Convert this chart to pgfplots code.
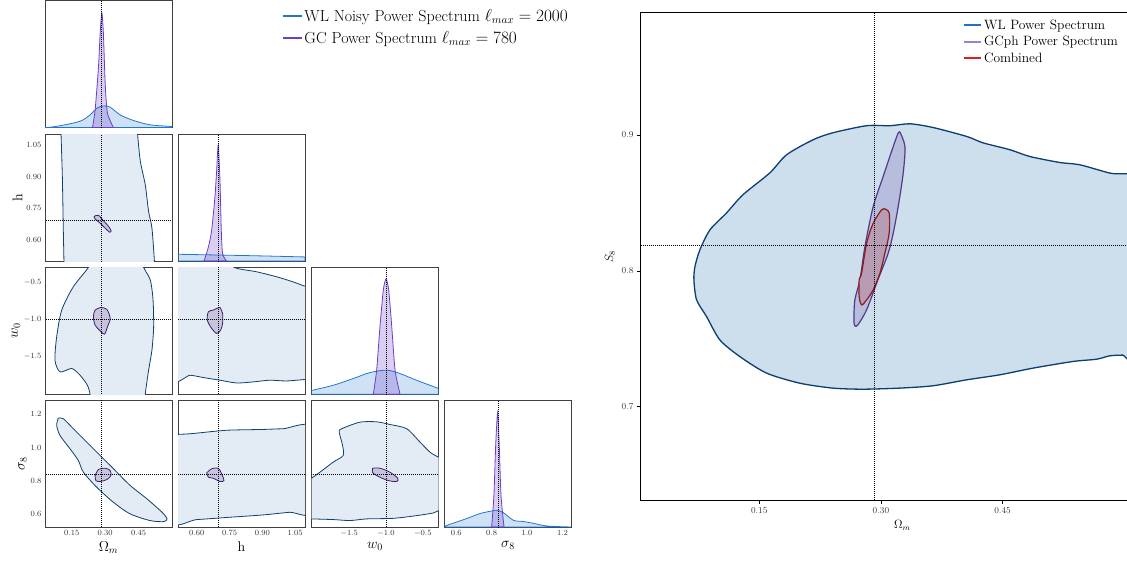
\documentclass[border=0pt]{standalone}
\usepackage{pgfplots}
\pgfplotsset{compat=1.18}
\definecolor{wlfill}{HTML}{E3ECF5}
\definecolor{wledge}{HTML}{0E3F6E}
\definecolor{gcfill}{HTML}{C9C4DE}
\definecolor{gcedge}{HTML}{3D1F6B}
\definecolor{wlone}{HTML}{2176D2}
\definecolor{gcone}{HTML}{6B3FC6}
\definecolor{rwlfill}{HTML}{CDDEEC}
\definecolor{rwledge}{HTML}{0C3E70}
\definecolor{rgcfill}{HTML}{B7BDDD}
\definecolor{rgcedge}{HTML}{523B86}
\definecolor{rcbfill}{HTML}{B89CB3}
\definecolor{rcbedge}{HTML}{8C1B1B}
\definecolor{legblue}{HTML}{1F6FD0}
\definecolor{legpurple}{HTML}{9B7FE0}
\definecolor{legred}{HTML}{E02020}
\pgfplotsset{
 corner/.style={scale only axis, width=127pt, height=127pt, anchor=north west,
   axis line style={draw=black!75, line width=0.9pt},
   xtick style={draw=none}, ytick style={draw=none},
   tick label style={font=\fontsize{8.5}{9}\selectfont, text=black!80},
   label style={font=\fontsize{14}{16}\selectfont},
   xticklabels={}, yticklabels={},
   xlabel style={yshift=1pt}, ylabel style={yshift=-3pt}},
 omx/.style={xmin=0.03,xmax=0.6, xtick={0.15,0.30,0.45}},
 hx/.style={xmin=0.514,xmax=1.095, xtick={0.60,0.75,0.90,1.05}},
 wx/.style={xmin=-2.012,xmax=-0.287, xtick={-1.5,-1.0,-0.5}},
 sx/.style={xmin=0.534,xmax=1.251, xtick={0.6,0.8,1.0,1.2}},
 hy/.style={ymin=0.502,ymax=1.10, ytick={0.60,0.75,0.90,1.05}},
 wy/.style={ymin=-2.01,ymax=-0.297, ytick={-1.5,-1.0,-0.5}},
 sy/.style={ymin=0.519,ymax=1.287, ytick={0.6,0.8,1.0,1.2}},
 oned/.style={ymin=0,ymax=1, ytick=\empty},
 wl2/.style={fill=wlfill, draw=wledge, line width=0.8pt, smooth, tension=0.45, forget plot},
 gc2/.style={fill=gcfill, draw=gcedge, line width=0.8pt, smooth, tension=0.5, forget plot},
 wl1/.style={fill=wlone, fill opacity=0.22, draw=wlone, draw opacity=1, line width=0.8pt, smooth, tension=0.5, forget plot},
 gc1/.style={fill=gcone, fill opacity=0.25, draw=gcone, draw opacity=1, line width=0.8pt, smooth, tension=0.4, forget plot},
 fid/.style={black, line width=0.6pt, dash pattern=on 1pt off 1pt, forget plot},
}
\begin{document}
\begin{tikzpicture}
\useasboundingbox (0pt,0pt) rectangle (1127pt,-560pt);
% ---------- (1,1) Omega_m 1D
\begin{axis}[corner, omx, oned, at={(45pt,-0.5pt)},
  legend style={at={(1.862,0.95)}, anchor=north west, draw=white, fill=white,
    font=\fontsize{16}{19}\selectfont, row sep=4.5pt, inner sep=0pt},
  legend cell align=left,
  legend image code/.code={\draw[#1] (0pt,0pt) -- (19pt,0pt);}]
\addplot[color=wlone, line width=1.8pt] coordinates {(-5,-5)(-4,-5)};
\addlegendentry{WL Noisy Power Spectrum $\ell_{max} = 2000$}
\addplot[color=gcone, line width=1.8pt] coordinates {(-5,-5)(-4,-5)};
\addlegendentry{GC Power Spectrum $\ell_{max} = 780$}
\addplot[wl1] coordinates {(0.03,0.0)(0.067,0.005)(0.142,0.029)(0.195,0.055)(0.232,0.099)(0.263,0.152)(0.292,0.17)(0.3225,0.16)(0.3676,0.099)(0.4275,0.055)(0.5027,0.021)(0.6,0.008)} \closedcycle;
\addplot[gc1] coordinates {(0.243,0)(0.255,0.139)(0.270,0.478)(0.2775,0.742)(0.285,0.904)(0.292,0.742)(0.300,0.35)(0.310,0.115)(0.337,0)} \closedcycle;
\addplot[fid] coordinates {(0.281,-1)(0.281,2)};
\end{axis}
% ---------- (2,1) h vs Omega_m
\begin{axis}[corner, omx, hy, at={(45pt,-134pt)},
  yticklabels={$0.60$,$0.75$,$0.90$,$1.05$}, ylabel={h}]
\addplot[wl2] coordinates {(0.100,1.20)(0.102,1.1)(0.108,0.894)(0.112,0.657)(0.115,0.502)(0.116,0.40)(0.525,0.40)(0.521,0.502)(0.510,0.657)(0.495,0.735)(0.480,0.861)(0.458,0.971)(0.4455,1.1)(0.44,1.20)(0.100,1.20)} -- cycle;
\addplot[gc2] coordinates {(0.2505,0.712)(0.270,0.717)(0.2955,0.688)(0.315,0.665)(0.327,0.644)(0.319,0.638)(0.300,0.657)(0.2775,0.680)(0.255,0.700)(0.2505,0.712)} -- cycle;
\addplot[fid] coordinates {(0.281,0)(0.281,2)};
\addplot[fid] coordinates {(-1,0.692)(2,0.692)};
\end{axis}
% ---------- (2,2) h 1D
\begin{axis}[corner, hx, oned, at={(178pt,-134pt)}]
\addplot[wl1] coordinates {(0.514,0.053)(0.7,0.047)(0.9,0.04)(1.095,0.032)} \closedcycle;
\addplot[gc1] coordinates {(0.633,0)(0.653,0.11)(0.668,0.242)(0.683,0.505)(0.691,0.716)(0.698,0.913)(0.706,0.637)(0.712,0.242)(0.718,0.058)(0.736,0)} \closedcycle;
\addplot[fid] coordinates {(0.697,-1)(0.697,2)};
\end{axis}
% ---------- (3,1) w0 vs Omega_m
\begin{axis}[corner, omx, wy, at={(45pt,-267.3pt)},
  yticklabels={$-1.5$,$-1.0$,$-0.5$}, ylabel={$w_0$}]
\addplot[wl2] coordinates {(0.2414,-0.13)(0.2248,-0.297)(0.1572,-0.559)(0.105,-0.874)(0.0824,-1.235)(0.0748,-1.55)(0.0973,-1.708)(0.15,-1.662)(0.1874,-1.753)(0.2203,-1.888)(0.2324,-2.01)(0.237,-2.16)(0.480,-2.16)(0.480,-2.01)(0.495,-1.685)(0.510,-1.415)(0.5176,-1.1)(0.515,-0.739)(0.5027,-0.469)(0.4725,-0.297)(0.458,-0.13)(0.2414,-0.13)} -- cycle;
\addplot[gc2] coordinates {(0.2806,-0.838)(0.3077,-0.865)(0.3225,-0.986)(0.3104,-1.1)(0.2968,-1.199)(0.2775,-1.154)(0.255,-1.077)(0.2473,-0.965)(0.255,-0.874)(0.2806,-0.838)} -- cycle;
\addplot[fid] coordinates {(0.281,-3)(0.281,0)};
\addplot[fid] coordinates {(-1,-1.0)(2,-1.0)};
\end{axis}
% ---------- (3,2) w0 vs h
\begin{axis}[corner, hx, wy, at={(178pt,-267.3pt)}]
\addplot[wl2] coordinates {(0.479,-0.064)(0.70,-0.12)(0.77,-0.297)(0.873,-0.357)(0.964,-0.424)(1.039,-0.492)(1.092,-0.55)(1.138,-0.59)(1.138,-1.807)(1.092,-1.811)(1.009,-1.83)(0.933,-1.82)(0.857,-1.843)(0.782,-1.857)(0.706,-1.82)(0.630,-1.784)(0.5695,-1.753)(0.479,-1.753)(0.479,-0.064)} -- cycle;
\addplot[gc2] coordinates {(0.706,-0.838)(0.718,-0.919)(0.718,-1.054)(0.709,-1.145)(0.691,-1.189)(0.668,-1.122)(0.648,-1.009)(0.653,-0.897)(0.675,-0.874)(0.698,-0.843)(0.706,-0.838)} -- cycle;
\addplot[fid] coordinates {(0.697,-3)(0.697,0)};
\addplot[fid] coordinates {(0,-1.0)(2,-1.0)};
\end{axis}
% ---------- (3,3) w0 1D
\begin{axis}[corner, wx, oned, at={(311.5pt,-267.3pt)}]
\addplot[wl1] coordinates {(-2.012,0.03)(-1.718,0.071)(-1.446,0.124)(-1.218,0.171)(-0.99,0.19)(-0.809,0.163)(-0.582,0.11)(-0.282,0.045)} \closedcycle;
\addplot[gc1] coordinates {(-1.173,0.0)(-1.127,0.19)(-1.082,0.533)(-1.037,0.82)(-1.0,0.908)(-0.963,0.82)(-0.922,0.533)(-0.877,0.19)(-0.809,0.0)} \closedcycle;
\addplot[fid] coordinates {(-1.0,-1)(-1.0,2)};
\end{axis}
% ---------- (4,1) sigma8 vs Omega_m
\begin{axis}[corner, omx, sy, at={(45pt,-400pt)},
  xticklabels={$0.15$,$0.30$,$0.45$}, yticklabels={$0.6$,$0.8$,$1.0$,$1.2$},
  xlabel={$\Omega_m$}, ylabel={$\sigma_8$}]
\addplot[wl2] coordinates {(0.0896,1.1776)(0.1122,1.174)(0.1572,1.1133)(0.2176,1.032)(0.2775,0.9515)(0.3374,0.871)(0.4126,0.770)(0.4878,0.689)(0.5554,0.608)(0.5779,0.568)(0.5626,0.5515)(0.5027,0.5576)(0.4126,0.598)(0.3374,0.668)(0.2626,0.759)(0.2023,0.850)(0.1797,0.921)(0.1423,0.992)(0.0973,1.0727)(0.0824,1.133)(0.0896,1.1776)} -- cycle;
\addplot[gc2] coordinates {(0.255,0.830)(0.2698,0.8667)(0.300,0.8745)(0.3225,0.8606)(0.3257,0.830)(0.3077,0.806)(0.2775,0.794)(0.2581,0.800)(0.255,0.830)} -- cycle;
\addplot[fid] coordinates {(0.281,0)(0.281,2)};
\addplot[fid] coordinates {(-1,0.836)(2,0.836)};
\end{axis}
% ---------- (4,2) sigma8 vs h
\begin{axis}[corner, hx, sy, at={(178pt,-400pt)},
  xticklabels={$0.60$,$0.75$,$0.90$,$1.05$}, xlabel={h}]
\addplot[wl2] coordinates {(0.479,1.077)(0.5695,1.083)(0.6755,1.097)(0.751,1.105)(0.903,1.109)(0.994,1.113)(1.138,1.113)(1.138,0.618)(1.024,0.608)(0.903,0.592)(0.751,0.578)(0.60,0.564)(0.479,0.558)(0.479,1.077)} -- cycle;
\addplot[gc2] coordinates {(0.6455,0.8467)(0.668,0.871)(0.698,0.8745)(0.7136,0.8406)(0.724,0.80)(0.706,0.794)(0.6755,0.814)(0.653,0.820)(0.6455,0.8467)} -- cycle;
\addplot[fid] coordinates {(0.697,0)(0.697,2)};
\addplot[fid] coordinates {(0,0.836)(2,0.836)};
\end{axis}
% ---------- (4,3) sigma8 vs w0
\begin{axis}[corner, wx, sy, at={(311.5pt,-400pt)},
  xticklabels={$-1.5$,$-1.0$,$-0.5$}, xlabel={$w_0$}]
\addplot[wl2] coordinates {(-2.10,0.788)(-2.012,0.814)(-1.899,0.850)(-1.718,0.911)(-1.582,0.9515)(-1.590,1.012)(-1.636,1.093)(-1.604,1.113)(-1.354,1.153)(-1.127,1.155)(-0.9455,1.139)(-0.718,1.113)(-0.537,1.032)(-0.401,0.971)(-0.2875,0.941)(-0.196,0.921)(-0.196,0.618)(-0.2875,0.618)(-0.356,0.604)(-0.582,0.588)(-0.9,0.5715)(-1.263,0.568)(-1.49,0.558)(-1.718,0.564)(-2.012,0.568)(-2.10,0.57)(-2.10,0.788)} -- cycle;
\addplot[gc2] coordinates {(-1.181,0.8745)(-1.082,0.8745)(-0.9455,0.850)(-0.841,0.814)(-0.854,0.794)(-0.969,0.80)(-1.082,0.820)(-1.181,0.847)(-1.181,0.8745)} -- cycle;
\addplot[fid] coordinates {(-1.0,0)(-1.0,2)};
\addplot[fid] coordinates {(-3,0.836)(0,0.836)};
\end{axis}
% ---------- (4,4) sigma8 1D
\begin{axis}[corner, sx, oned, at={(444.5pt,-400pt)},
  xticklabels={$0.6$,$0.8$,$1.0$,$1.2$}, xlabel={$\sigma_8$}]
\addplot[wl1] coordinates {(0.531,0.005)(0.658,0.066)(0.734,0.106)(0.8,0.126)(0.828,0.132)(0.866,0.113)(0.923,0.053)(0.98,0.043)(1.036,0.029)(1.113,0.008)(1.249,0.0)} \closedcycle;
\addplot[gc1] coordinates {(0.8,0)(0.813,0.25)(0.823,0.645)(0.834,0.903)(0.843,0.645)(0.853,0.25)(0.870,0)} \closedcycle;
\addplot[fid] coordinates {(0.838,-1)(0.838,2)};
\end{axis}
% ---------- right panel S8 vs Omega_m
\begin{axis}[scale only axis, width=524.7pt, height=488pt, at={(640pt,-13pt)}, anchor=north west,
  xmin=0.003, xmax=0.65, ymin=0.6305, ymax=0.990,
  xtick={0.15,0.30,0.45}, xticklabels={$0.15$,$0.30$,$0.45$},
  ytick={0.7,0.8,0.9}, yticklabels={$0.7$,$0.8$,$0.9$},
  tick align=outside, xtick pos=bottom, ytick pos=left, major tick length=3pt,
  tick style={black, line width=0.5pt},
  tick label style={font=\fontsize{8.8}{9}\selectfont, text=black!80},
  label style={font=\fontsize{11.5}{12}\selectfont},
  xlabel={$\Omega_m$}, ylabel={$S_8$},
  axis line style={line width=0.9pt},
  legend style={at={(0.915,0.991)}, anchor=north east, draw=white, fill=white,
    font=\fontsize{13.5}{15}\selectfont, row sep=1.5pt, inner sep=0pt},
  legend cell align=left,
  legend image code/.code={\draw[#1] (0pt,0pt) -- (17pt,0pt);}]
\addplot[color=legblue, line width=2pt] coordinates {(-5,-5)(-4,-5)};
\addlegendentry{WL Power Spectrum}
\addplot[color=legpurple, line width=2pt] coordinates {(-5,-5)(-4,-5)};
\addlegendentry{GCph Power Spectrum}
\addplot[color=legred, line width=2pt] coordinates {(-5,-5)(-4,-5)};
\addlegendentry{Combined}
\addplot[fill=rwlfill, draw=rwledge, line width=1.3pt, smooth, tension=0.45, forget plot] coordinates {(0.619,0.8715)(0.598,0.8715)(0.5824,0.872)(0.5454,0.8781)(0.5207,0.8798)(0.4837,0.8842)(0.4591,0.8892)(0.4258,0.8943)(0.4057,0.899)(0.3641,0.9056)(0.3358,0.9083)(0.3111,0.9069)(0.2824,0.9069)(0.2408,0.9017)(0.2162,0.8965)(0.1837,0.8855)(0.1631,0.8722)(0.1298,0.856)(0.1097,0.8427)(0.0892,0.8302)(0.0768,0.8155)(0.0707,0.8032)(0.0694,0.7934)(0.0727,0.7786)(0.0850,0.7663)(0.1014,0.7491)(0.1261,0.7368)(0.1591,0.7246)(0.2001,0.7172)(0.2408,0.7136)(0.2778,0.7128)(0.3234,0.7136)(0.3641,0.7153)(0.4057,0.7197)(0.4467,0.7234)(0.4874,0.7283)(0.5367,0.7332)(0.5660,0.7349)(0.5824,0.7374)(0.5980,0.7379)(0.619,0.7379)(0.619,0.8715)} -- cycle;
\addplot[fill=rgcfill, draw=rgcedge, line width=1.2pt, smooth, tension=0.5, forget plot] coordinates {(0.3234,0.9022)(0.3296,0.8916)(0.3275,0.872)(0.3213,0.8474)(0.3152,0.8278)(0.3090,0.8130)(0.2963,0.7934)(0.2824,0.7713)(0.2716,0.7602)(0.2679,0.7595)(0.2667,0.7639)(0.2679,0.7786)(0.2741,0.7934)(0.2803,0.8179)(0.2905,0.8474)(0.3028,0.8695)(0.3152,0.8916)(0.3213,0.9015)(0.3234,0.9022)} -- cycle;
\addplot[fill=rcbfill, draw=rcbedge, line width=1.2pt, smooth, tension=0.5, forget plot] coordinates {(0.3049,0.8455)(0.3102,0.8425)(0.3102,0.8278)(0.3049,0.8130)(0.2988,0.7983)(0.2905,0.7860)(0.2824,0.7786)(0.2762,0.7749)(0.2732,0.7811)(0.2732,0.7934)(0.2762,0.7983)(0.2824,0.8204)(0.2905,0.8351)(0.3009,0.8450)(0.3049,0.8455)} -- cycle;
\addplot[fid] coordinates {(0.2914,0.5)(0.2914,1.1)};
\addplot[fid] coordinates {(-0.1,0.819)(0.8,0.819)};
\end{axis}
\end{tikzpicture}
\end{document}
